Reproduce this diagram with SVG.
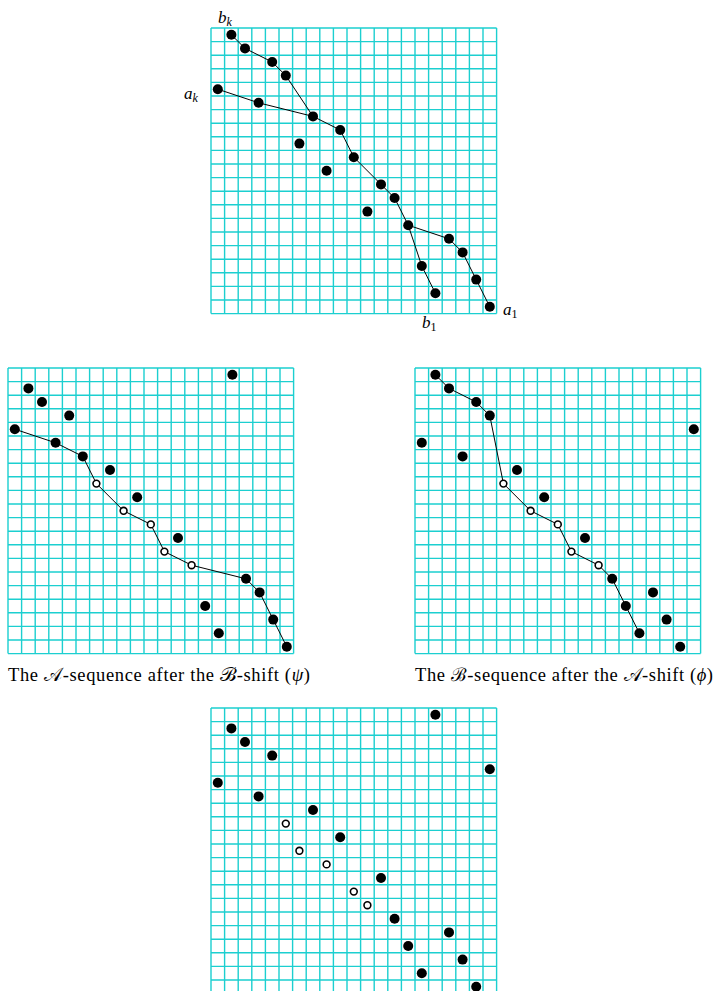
<svg xmlns="http://www.w3.org/2000/svg" width="717" height="991" viewBox="0 0 717 991">
<style>
.grid{fill:none;stroke:#1ccfd0;stroke-width:1.4}
.link{fill:none;stroke:#000;stroke-width:1}
.dot{fill:#000}
.open{fill:#fff;stroke:#000;stroke-width:1.6}
.lbl{font-family:"Liberation Serif","DejaVu Serif",serif;font-size:17px;font-style:italic;fill:#000}
.sub{font-size:12px}
.up{font-style:normal}
.cap{font-family:"Liberation Serif","DejaVu Serif",serif;font-size:18.5px;fill:#000}
</style>
<defs>
<path id="g" class="grid" d="M0 0V285.6M13.6 0V285.6M27.2 0V285.6M40.8 0V285.6M54.4 0V285.6M68 0V285.6M81.6 0V285.6M95.2 0V285.6M108.8 0V285.6M122.4 0V285.6M136 0V285.6M149.6 0V285.6M163.2 0V285.6M176.8 0V285.6M190.4 0V285.6M204 0V285.6M217.6 0V285.6M231.2 0V285.6M244.8 0V285.6M258.4 0V285.6M272 0V285.6M285.6 0V285.6M0 0H285.6M0 13.6H285.6M0 27.2H285.6M0 40.8H285.6M0 54.4H285.6M0 68H285.6M0 81.6H285.6M0 95.2H285.6M0 108.8H285.6M0 122.4H285.6M0 136H285.6M0 149.6H285.6M0 163.2H285.6M0 176.8H285.6M0 190.4H285.6M0 204H285.6M0 217.6H285.6M0 231.2H285.6M0 244.8H285.6M0 258.4H285.6M0 272H285.6M0 285.6H285.6"/>
</defs>

<!-- Top panel -->
<g id="panel-top" transform="translate(211,28)">
<use href="#g"/>
<g id="connectors-top">
<polyline class="link" points="20.4,6.8 34,20.4 61.2,34 74.8,47.6 102,88.4 129.2,102 142.8,129.2 170,156.4 183.6,170 197.2,197.2 210.8,238 224.4,265.2"/>
<polyline class="link" points="6.8,61.2 47.6,74.8 102,88.4"/>
<polyline class="link" points="197.2,197.2 238,210.8 251.6,224.4 265.2,251.6 278.8,278.8"/>
</g>
<g id="nodes-top">
<circle id="t0" class="dot" cx="20.4" cy="6.8" r="5"/>
<circle id="t1" class="dot" cx="34" cy="20.4" r="5"/>
<circle id="t2" class="dot" cx="61.2" cy="34" r="5"/>
<circle id="t3" class="dot" cx="74.8" cy="47.6" r="5"/>
<circle id="t4" class="dot" cx="6.8" cy="61.2" r="5"/>
<circle id="t5" class="dot" cx="47.6" cy="74.8" r="5"/>
<circle id="t6" class="dot" cx="102" cy="88.4" r="5"/>
<circle id="t7" class="dot" cx="129.2" cy="102" r="5"/>
<circle id="t8" class="dot" cx="88.4" cy="115.6" r="5"/>
<circle id="t9" class="dot" cx="142.8" cy="129.2" r="5"/>
<circle id="t10" class="dot" cx="115.6" cy="142.8" r="5"/>
<circle id="t11" class="dot" cx="170" cy="156.4" r="5"/>
<circle id="t12" class="dot" cx="183.6" cy="170" r="5"/>
<circle id="t13" class="dot" cx="156.4" cy="183.6" r="5"/>
<circle id="t14" class="dot" cx="197.2" cy="197.2" r="5"/>
<circle id="t15" class="dot" cx="238" cy="210.8" r="5"/>
<circle id="t16" class="dot" cx="251.6" cy="224.4" r="5"/>
<circle id="t17" class="dot" cx="210.8" cy="238" r="5"/>
<circle id="t18" class="dot" cx="265.2" cy="251.6" r="5"/>
<circle id="t19" class="dot" cx="224.4" cy="265.2" r="5"/>
<circle id="t20" class="dot" cx="278.8" cy="278.8" r="5"/>
</g>
</g>
<g id="labels-top">
<text class="lbl" x="218" y="23">b<tspan class="sub" dy="3">k</tspan></text>
<text class="lbl" x="184" y="99">a<tspan class="sub" dy="3">k</tspan></text>
<text class="lbl" x="503" y="315">a<tspan class="sub up" dy="3">1</tspan></text>
<text class="lbl" x="422" y="328">b<tspan class="sub up" dy="3">1</tspan></text>
</g>

<!-- Bottom-left panel -->
<g id="panel-left" transform="translate(8,368)">
<use href="#g"/>
<g id="connectors-left">
<polyline class="link" points="6.8,61.2 47.6,74.8 74.8,88.4 88.4,115.6 115.6,142.8 142.8,156.4 156.4,183.6 183.6,197.2 238,210.8 251.6,224.4 265.2,251.6 278.8,278.8"/>
</g>
<g id="nodes-left">
<circle id="l0" class="dot" cx="224.4" cy="6.8" r="5"/>
<circle id="l1" class="dot" cx="20.4" cy="20.4" r="5"/>
<circle id="l2" class="dot" cx="34" cy="34" r="5"/>
<circle id="l3" class="dot" cx="61.2" cy="47.6" r="5"/>
<circle id="l4" class="dot" cx="6.8" cy="61.2" r="5"/>
<circle id="l5" class="dot" cx="47.6" cy="74.8" r="5"/>
<circle id="l6" class="dot" cx="74.8" cy="88.4" r="5"/>
<circle id="l7" class="dot" cx="102" cy="102" r="5"/>
<circle id="l8" class="open" cx="88.4" cy="115.6" r="3.4"/>
<circle id="l9" class="dot" cx="129.2" cy="129.2" r="5"/>
<circle id="l10" class="open" cx="115.6" cy="142.8" r="3.4"/>
<circle id="l11" class="open" cx="142.8" cy="156.4" r="3.4"/>
<circle id="l12" class="dot" cx="170" cy="170" r="5"/>
<circle id="l13" class="open" cx="156.4" cy="183.6" r="3.4"/>
<circle id="l14" class="open" cx="183.6" cy="197.2" r="3.4"/>
<circle id="l15" class="dot" cx="238" cy="210.8" r="5"/>
<circle id="l16" class="dot" cx="251.6" cy="224.4" r="5"/>
<circle id="l17" class="dot" cx="197.2" cy="238" r="5"/>
<circle id="l18" class="dot" cx="265.2" cy="251.6" r="5"/>
<circle id="l19" class="dot" cx="210.8" cy="265.2" r="5"/>
<circle id="l20" class="dot" cx="278.8" cy="278.8" r="5"/>
</g>
</g>
<text id="caption-left" class="cap" x="8" y="681" textLength="302" lengthAdjust="spacing">The 𝒜-sequence after the ℬ-shift (<tspan font-style="italic">ψ</tspan>)</text>

<!-- Bottom-right panel -->
<g id="panel-right" transform="translate(415,368)">
<use href="#g"/>
<g id="connectors-right">
<polyline class="link" points="20.4,6.8 34,20.4 61.2,34 74.8,47.6 88.4,115.6 115.6,142.8 142.8,156.4 156.4,183.6 183.6,197.2 197.2,210.8 210.8,238 224.4,265.2"/>
</g>
<g id="nodes-right">
<circle id="r0" class="dot" cx="20.4" cy="6.8" r="5"/>
<circle id="r1" class="dot" cx="34" cy="20.4" r="5"/>
<circle id="r2" class="dot" cx="61.2" cy="34" r="5"/>
<circle id="r3" class="dot" cx="74.8" cy="47.6" r="5"/>
<circle id="r4" class="dot" cx="278.8" cy="61.2" r="5"/>
<circle id="r5" class="dot" cx="6.8" cy="74.8" r="5"/>
<circle id="r6" class="dot" cx="47.6" cy="88.4" r="5"/>
<circle id="r7" class="dot" cx="102" cy="102" r="5"/>
<circle id="r8" class="open" cx="88.4" cy="115.6" r="3.4"/>
<circle id="r9" class="dot" cx="129.2" cy="129.2" r="5"/>
<circle id="r10" class="open" cx="115.6" cy="142.8" r="3.4"/>
<circle id="r11" class="open" cx="142.8" cy="156.4" r="3.4"/>
<circle id="r12" class="dot" cx="170" cy="170" r="5"/>
<circle id="r13" class="open" cx="156.4" cy="183.6" r="3.4"/>
<circle id="r14" class="open" cx="183.6" cy="197.2" r="3.4"/>
<circle id="r15" class="dot" cx="197.2" cy="210.8" r="5"/>
<circle id="r16" class="dot" cx="238" cy="224.4" r="5"/>
<circle id="r17" class="dot" cx="210.8" cy="238" r="5"/>
<circle id="r18" class="dot" cx="251.6" cy="251.6" r="5"/>
<circle id="r19" class="dot" cx="224.4" cy="265.2" r="5"/>
<circle id="r20" class="dot" cx="265.2" cy="278.8" r="5"/>
</g>
</g>
<text id="caption-right" class="cap" x="415" y="681" textLength="298" lengthAdjust="spacing">The ℬ-sequence after the 𝒜-shift (<tspan font-style="italic">ϕ</tspan>)</text>

<!-- Bottom panel -->
<g id="panel-bottom" transform="translate(211,708)">
<use href="#g"/>
<g id="nodes-bottom">
<circle id="b0" class="dot" cx="224.4" cy="6.8" r="5"/>
<circle id="b1" class="dot" cx="20.4" cy="20.4" r="5"/>
<circle id="b2" class="dot" cx="34" cy="34" r="5"/>
<circle id="b3" class="dot" cx="61.2" cy="47.6" r="5"/>
<circle id="b4" class="dot" cx="278.8" cy="61.2" r="5"/>
<circle id="b5" class="dot" cx="6.8" cy="74.8" r="5"/>
<circle id="b6" class="dot" cx="47.6" cy="88.4" r="5"/>
<circle id="b7" class="dot" cx="102" cy="102" r="5"/>
<circle id="b8" class="open" cx="74.8" cy="115.6" r="3.4"/>
<circle id="b9" class="dot" cx="129.2" cy="129.2" r="5"/>
<circle id="b10" class="open" cx="88.4" cy="142.8" r="3.4"/>
<circle id="b11" class="open" cx="115.6" cy="156.4" r="3.4"/>
<circle id="b12" class="dot" cx="170" cy="170" r="5"/>
<circle id="b13" class="open" cx="142.8" cy="183.6" r="3.4"/>
<circle id="b14" class="open" cx="156.4" cy="197.2" r="3.4"/>
<circle id="b15" class="dot" cx="183.6" cy="210.8" r="5"/>
<circle id="b16" class="dot" cx="238" cy="224.4" r="5"/>
<circle id="b17" class="dot" cx="197.2" cy="238" r="5"/>
<circle id="b18" class="dot" cx="251.6" cy="251.6" r="5"/>
<circle id="b19" class="dot" cx="210.8" cy="265.2" r="5"/>
<circle id="b20" class="dot" cx="265.2" cy="278.8" r="5"/>
</g>
</g>
</svg>
